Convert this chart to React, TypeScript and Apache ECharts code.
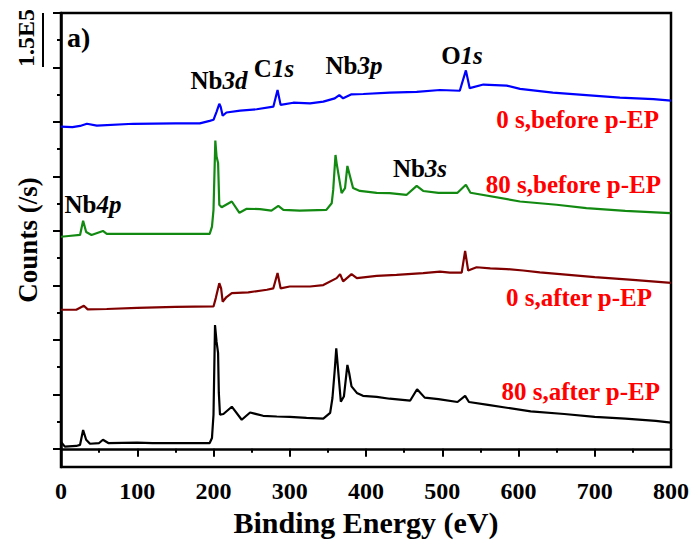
import React, { useEffect, useRef } from "react";
import * as echarts from "echarts";

// Binding energy (eV) and counts (in 1e3 counts/s, stacked with offsets)
const blueEnergy = [0, 15, 25, 34, 47, 95, 150, 182, 195, 200, 204, 207.6, 209.4, 212, 217, 235, 256.6, 278.5, 284, 288, 304.7, 326.6, 344, 359, 365, 370, 381, 396.5, 431, 466.5, 497, 523, 531, 536, 554, 584.5, 602, 645, 689, 733, 777, 800];
const blueCounts = [887, 886, 889, 895, 890, 895, 896, 896, 903, 906, 928, 950, 942, 917, 926, 931, 935, 942, 988, 947, 953, 951, 956, 965, 974, 965, 976, 977, 981, 983, 988, 986, 1042, 993, 1003, 1000, 991, 981, 974, 967, 963, 959];

const greenEnergy = [0, 10, 25, 29, 33, 40, 55, 60, 100, 195, 198, 200, 202.4, 204, 206, 207.6, 210.7, 224, 234, 243.5, 261, 276, 285, 291.6, 313, 348, 355, 357, 360, 361.5, 368, 372.5, 375.6, 378, 383, 392, 414, 431, 453, 466.5, 475, 495, 520, 531, 537, 602, 650, 689, 740, 799];
const greenCounts = [584, 586, 589, 628, 597, 589, 600, 592, 592, 592, 612, 658, 849, 805, 787, 672, 665, 681, 650, 661, 660, 656, 669, 658, 656, 658, 676, 713, 809, 786, 704, 718, 779, 759, 718, 710, 705, 704, 699, 724, 710, 705, 705, 727, 705, 681, 672, 663, 655, 649];

const redEnergy = [0, 20, 30, 35, 60, 100, 150, 200, 203, 207.6, 210, 212, 217, 224, 245.6, 270, 278.5, 284, 288, 300, 326.6, 344, 361.5, 366, 370, 381, 388, 414, 440, 475, 497, 510, 525.5, 530, 534, 545, 563, 584.5, 606, 628, 700, 750, 800];
const redCounts = [383, 383, 394, 384, 385, 388, 391, 392, 415, 456, 442, 405, 418, 429, 431, 438, 442, 484, 442, 447, 447, 451, 470, 481, 461, 481, 470, 476, 479, 484, 488, 485, 485, 545, 491, 500, 497, 495, 491, 486, 473, 465, 457];

const blackEnergy = [0, 5, 20, 25, 29, 33, 38, 50, 55, 62, 100, 120, 150, 195, 198, 200, 202, 204, 206, 207, 208.5, 213, 224, 237, 248, 265, 283, 300, 322, 344, 353, 356, 359, 361, 362.5, 367, 371, 375.6, 378, 381, 388, 396, 414, 431, 458, 467, 477, 495, 520, 530, 535, 560, 616, 660, 700, 740, 780, 800];
const blackCounts = [19, 6, 8, 11, 52, 25, 14, 16, 25, 16, 17, 16, 16, 16, 30, 94, 341, 295, 264, 154, 94, 96, 116, 80, 100, 91, 89, 88, 85, 83, 99, 140, 217, 277, 240, 130, 144, 231, 208, 172, 154, 146, 143, 138, 133, 164, 141, 137, 129, 146, 129, 121, 103, 96, 88, 83, 77, 72];

const seriesNames = ["0 s,before p-EP", "80 s,before p-EP", "0 s,after p-EP", "80 s,after p-EP"];
const seriesColors = ["#0000ff", "#128a12", "#800000", "#000000"];
const yMajorTicks = [0, 150, 300, 450, 600, 750, 900, 1050, 1200];
const yMinorTicks = [75, 225, 375, 525, 675, 825, 975, 1125];

const FONT = "'Times New Roman', 'Liberation Serif', serif";

const zip = (xs: number[], ys: number[]) => xs.map((x, i) => [x, ys[i]]);

export default function App() {
  const ref = useRef<HTMLDivElement>(null);
  useEffect(() => {
    if (!ref.current) return;
    const chart = echarts.init(ref.current, undefined, { renderer: "svg" });
    const dataSets = [
      zip(blueEnergy, blueCounts),
      zip(greenEnergy, greenCounts),
      zip(redEnergy, redCounts),
      zip(blackEnergy, blackCounts),
    ];
    const peak = (text: string, x: number, y: number) => ({
      type: "text",
      x,
      y,
      style: {
        text,
        fill: "#000",
        font: `bold 25px ${FONT}`,
        align: "center",
        verticalAlign: "middle",
        rich: {
          n: { fontFamily: FONT, fontWeight: "bold", fontSize: 25, fill: "#000" },
          i: { fontFamily: FONT, fontWeight: "bold", fontStyle: "italic", fontSize: 25, fill: "#000" },
        },
      },
    });
    const redLabel = (text: string, x: number, y: number) => ({
      type: "text",
      x,
      y,
      style: {
        text,
        fill: "#ff0000",
        font: `bold 25px ${FONT}`,
        align: "right",
        verticalAlign: "middle",
      },
    });
    chart.setOption({
      animation: false,
      backgroundColor: "#fff",
      grid: {
        left: 61,
        top: 13,
        width: 610,
        height: 454,
        show: true,
        borderColor: "#000",
        borderWidth: 2.5,
        outerBoundsMode: "none",
        containLabel: false,
      },
      xAxis: {
        type: "value",
        min: 0,
        max: 800,
        interval: 100,
        name: "Binding Energy (eV)",
        nameLocation: "middle",
        nameGap: 40,
        nameTextStyle: { fontFamily: FONT, fontWeight: "bold", fontSize: 30, color: "#000" },
        axisLine: { show: true, lineStyle: { color: "#000", width: 2.5 } },
        axisTick: { show: true, inside: false, length: 8, lineStyle: { color: "#000", width: 2 } },
        minorTick: { show: true, splitNumber: 2, length: 4, lineStyle: { color: "#000", width: 2 } },
        splitLine: { show: false },
        minorSplitLine: { show: false },
        axisLabel: { fontFamily: FONT, fontWeight: "bold", fontSize: 24, color: "#000", margin: 12 },
      },
      yAxis: [
        {
          type: "value",
          min: -50,
          max: 1200,
          position: "left",
          name: "Counts (/s)",
          nameLocation: "middle",
          nameGap: 20,
          nameTextStyle: { fontFamily: FONT, fontWeight: "bold", fontSize: 27, color: "#000" },
          axisLine: { show: true, lineStyle: { color: "#000", width: 2.5 } },
          axisTick: { show: true, inside: false, length: 8, customValues: yMajorTicks, lineStyle: { color: "#000", width: 2 } },
          axisLabel: { show: false, customValues: yMajorTicks },
          splitLine: { show: false },
        },
        {
          type: "value",
          min: -50,
          max: 1200,
          position: "left",
          axisLine: { show: false },
          axisTick: { show: true, inside: false, length: 4, customValues: yMinorTicks, lineStyle: { color: "#000", width: 2 } },
          axisLabel: { show: false, customValues: yMinorTicks },
          splitLine: { show: false },
        },
      ],
      series: dataSets.map((d, i) => ({
        name: seriesNames[i],
        type: "line",
        data: d,
        yAxisIndex: 0,
        showSymbol: false,
        symbol: "none",
        lineStyle: { color: seriesColors[i], width: 2.2 },
        itemStyle: { color: seriesColors[i] },
        z: 3,
      })),
      graphic: [
        { type: "text", x: 67, y: 37, style: { text: "a)", fill: "#000", font: `bold 28px ${FONT}`, align: "left", verticalAlign: "middle" } },
        { type: "text", x: 26, y: 38, rotation: Math.PI / 2, style: { text: "1.5E5", fill: "#000", font: `bold 24px ${FONT}`, align: "center", verticalAlign: "middle" } },
        { type: "line", shape: { x1: 43, y1: 13, x2: 43, y2: 67 }, style: { stroke: "#000", lineWidth: 2 } },
        peak("{n|Nb}{i|3d}", 219, 80),
        peak("{n|C}{i|1s}", 274, 68),
        peak("{n|Nb}{i|3p}", 354, 65),
        peak("{n|O}{i|1s}", 462, 55),
        peak("{n|Nb}{i|4p}", 93, 204),
        peak("{n|Nb}{i|3s}", 420, 168),
        redLabel(seriesNames[0], 659, 119),
        redLabel(seriesNames[1], 661, 184),
        redLabel(seriesNames[2], 652, 297),
        redLabel(seriesNames[3], 660, 391),
      ],
    });
    return () => chart.dispose();
  }, []);
  return (
    <div
      ref={ref}
      style={{ position: "fixed", left: 0, top: 0, width: 691, height: 546, background: "#fff" }}
    />
  );
}
